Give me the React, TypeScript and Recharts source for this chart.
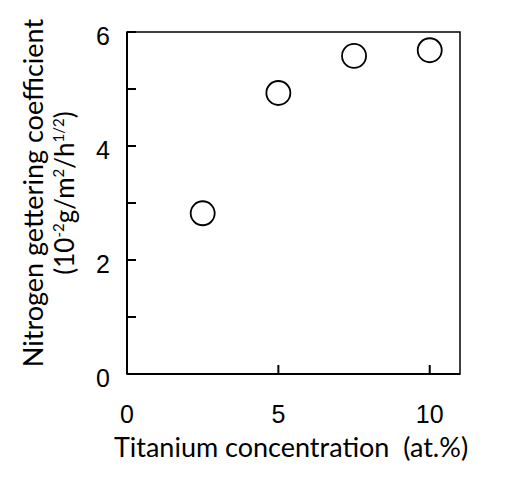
import { ReferenceArea, Scatter, ScatterChart, XAxis, YAxis, Label } from "recharts";

// Titanium concentration (at.%)
const concentration = [2.5, 5, 7.5, 10];
// Nitrogen gettering coefficient (10^-2 g/m2/h^1/2)
const coefficient = [2.82, 4.93, 5.58, 5.68];

const xTicks = [0, 5, 10];
const yTicks = [0, 1, 2, 3, 4, 5, 6];

const data = concentration.map((c, i) => ({ x: c, y: coefficient[i] }));

const tickFont = "'Liberation Sans', Arial, sans-serif";
const titleFont = "Lato, 'Open Sans', sans-serif";

const XTick = ({ x, y, payload }: any) => (
	<text x={x} y={y} textAnchor="middle" fontSize={25} fontFamily={tickFont} fill="#000">
		{payload.value}
	</text>
);

const YTick = ({ x, y, payload }: any) =>
	payload.value % 2 === 0 ? (
		<text x={x} y={y} dy={13} textAnchor="end" fontSize={25} fontFamily={tickFont} fill="#000">
			{payload.value}
		</text>
	) : (
		<g />
	);

const XTitle = () => (
	<text x={291} y={457} textAnchor="middle" fontSize={27} fontFamily={titleFont} fill="#000">
		Titanium concentration{"\u00a0\u00a0"}(at.%)
	</text>
);

const YTitle = () => (
	<g fontFamily={titleFont} fill="#000">
		<text x={43} y={193} transform="rotate(-90 43 193)" textAnchor="middle" fontSize={27}>
			Nitrogen gettering coefficient
		</text>
		<text x={74} y={193} transform="rotate(-90 74 193)" textAnchor="middle" fontSize={26}>
			(10
			<tspan fontSize={15} dy={-10}>-2</tspan>
			<tspan dy={10}>g/m</tspan>
			<tspan fontSize={15} dy={-10}>2</tspan>
			<tspan dy={10}>/h</tspan>
			<tspan fontSize={15} dy={-10}>1/2</tspan>
			<tspan dy={10}>)</tspan>
		</text>
	</g>
);

const Ring = ({ cx, cy }: any) => (
	<circle cx={cx} cy={cy} r={12} fill="#fff" stroke="#000" strokeWidth={1.8} />
);

export default function App() {
	return (
		<div style={{ position: "absolute", left: 0, top: 0, background: "#fff" }}>
			<ScatterChart
				width={505}
				height={477}
				margin={{ top: 32, right: 45, bottom: 43, left: 67 }}
			>
				<XAxis
					type="number"
					dataKey="x"
					domain={[0, 11]}
					ticks={xTicks}
					height={60}
					tickSize={-9}
					tickMargin={58}
					tick={<XTick />}
					axisLine={{ stroke: "#000", strokeWidth: 2 }}
					tickLine={{ stroke: "#000", strokeWidth: 2 }}
				>
					<Label content={<XTitle />} />
				</XAxis>
				<YAxis
					type="number"
					dataKey="y"
					domain={[0, 6]}
					ticks={yTicks}
					width={60}
					tickSize={-9}
					tickMargin={26}
					tick={<YTick />}
					axisLine={{ stroke: "#000", strokeWidth: 2 }}
					tickLine={{ stroke: "#000", strokeWidth: 2 }}
				>
					<Label content={<YTitle />} />
				</YAxis>
				<ReferenceArea
					x1={0}
					x2={11}
					y1={0}
					y2={6}
					fill="none"
					fillOpacity={0}
					stroke="#000"
					strokeWidth={1.5}
				/>
				<Scatter data={data} shape={<Ring />} isAnimationActive={false} />
			</ScatterChart>
		</div>
	);
}
